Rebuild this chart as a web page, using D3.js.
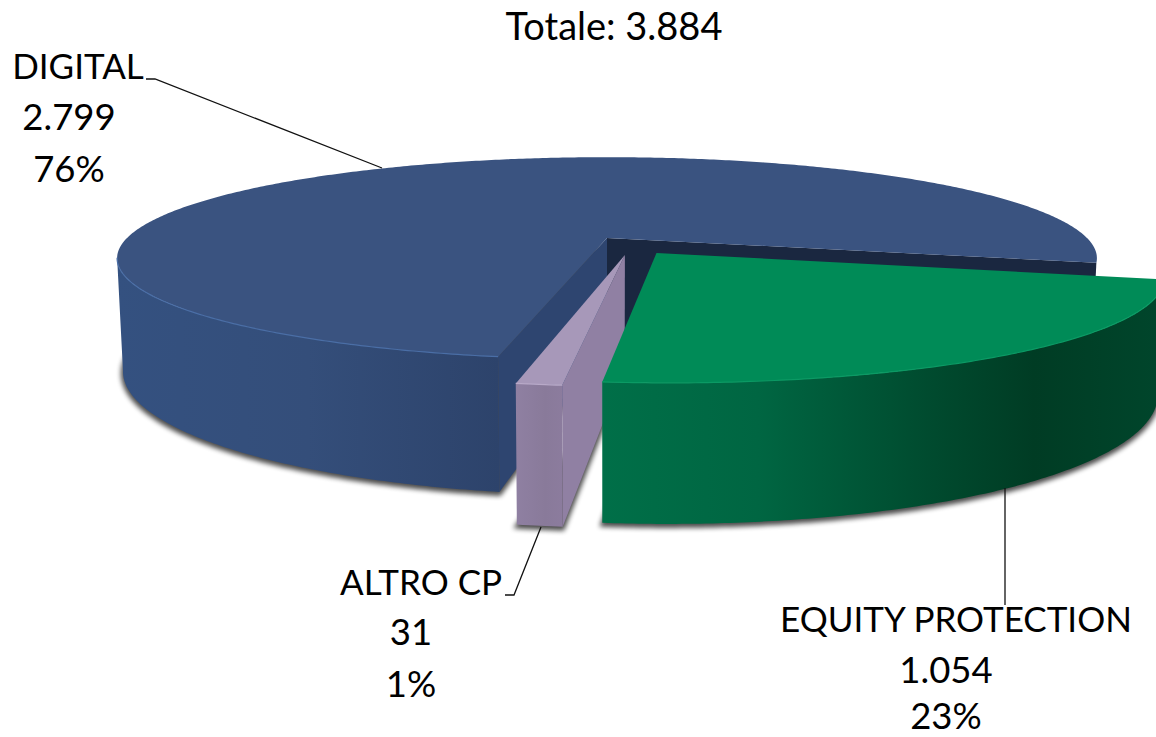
<!DOCTYPE html>
<html>
<head>
<meta charset="utf-8">
<script src="https://cdn.jsdelivr.net/npm/d3@7"></script>
<style>
	html, body { margin: 0; background: #fff; }
	svg { display: block; }
	text { font-family: Lato, "Open Sans", sans-serif; font-size: 36.5px; fill: #000; text-anchor: middle; }
</style>
</head>
<body>
<div id="chart"></div>
<script>
// order follows the slices clockwise from the front left corner
const categories = ['DIGITAL', 'EQUITY PROTECTION', 'ALTRO CP'];
const amounts = [2799, 1054, 31];
// shares as drawn, the labels round them
const shares = [76, 22.8, 1.2];
const totalLabel = 'Totale';

const width = 1156;
const height = 737;

// how the flat disc is seen: tilt, perspective and thickness
const persp = 0.2;
const thickness = 108.6;
const taper = 0.988;
const startDeg = 190.5;

// slice explode, in disc units
const explode = [[0, 0], [0.10, 0.15], [0.036, 0.17]];

const topColor = ['#3a5380', '#008b57', '#a798b9'];
const wallColor = ['#2e4570', '#006f48', '#9080a3'];
const backWall = '#1a2740';
const rimColor = ['#4a6ea6', '#0b9a64', '#b8a9c8'];
const sideStops = [
	[[0, '#345180'], [0.5, '#344e7a'], [1, '#2d436b']],
	[[0, '#006f48'], [0.28, '#006642'], [0.6, '#004a2e'], [0.78, '#003c24'], [1, '#00452b']],
	[[0, '#8f80a2'], [0.6, '#897a9a'], [1, '#8c7c9e']]
];
const sideRange = [[116, 500], [603, 1156], [516, 565]];

const x = d3.scaleLinear().domain([-1, 1]).range([127, 1087]);
const y = d3.scaleLinear().domain([-1, 1]).range([141, 335]);

const fmt = d3.formatLocale({ decimal: ',', thousands: '.', grouping: [3], currency: ['', '€'] }).format(',d');

let svg = d3.select('#chart')
	.append('svg')
	.attr('width', width)
	.attr('height', height);

let defs = svg.append('defs');

defs.append('filter')
	.attr('id', 'soft')
	.attr('x', '-10%').attr('y', '-10%')
	.attr('width', '120%').attr('height', '120%')
	.append('feGaussianBlur')
	.attr('stdDeviation', 2.5);

sideStops.forEach(function (stops, i) {
	let g = defs.append('linearGradient')
		.attr('id', 'side' + i)
		.attr('gradientUnits', 'userSpaceOnUse')
		.attr('x1', sideRange[i][0]).attr('x2', sideRange[i][1])
		.attr('y1', 0).attr('y2', 0);
	stops.forEach(function (s) {
		g.append('stop').attr('offset', s[0]).attr('stop-color', s[1]);
	});
});

let pie = d3.pie()
	.value(d => d)
	.sort(null)
	.startAngle(startDeg * Math.PI / 180)
	.endAngle((startDeg + 360) * Math.PI / 180);

let slices = pie(shares);

// disc point -> screen point, level 0 is the top face and 1 the bottom face
function project(i, radius, angle, level) {
	let u = explode[i][0] + radius * Math.sin(angle);
	let v = explode[i][1] - radius * Math.cos(angle);
	let w = 1 - persp * v;
	let px = x(u / w);
	let py = y(v / w) + level * thickness / w;
	if (level) px = x(0) + (px - x(0)) * taper;
	return [px, py];
}

function rim(i, from, to, level) {
	let n = Math.max(2, Math.ceil((to - from) / 0.01));
	return d3.range(n + 1).map(k => project(i, 1, from + (to - from) * k / n, level));
}

// the part of the rim that faces the viewer, from the slice start on
function facingEnd(d) {
	let a = d.startAngle;
	while (a < d.endAngle && -Math.cos(a) >= persp) a += 0.005;
	return Math.min(a, d.endAngle);
}

let line = d3.line();
let closed = d3.line().curve(d3.curveLinearClosed);

function wall(i, angle) {
	return closed([
		project(i, 0, 0, 0),
		project(i, 1, angle, 0),
		project(i, 1, angle, 1),
		project(i, 0, 0, 1)
	]);
}

// shadows go under everything
svg.append('g')
	.selectAll('path')
	.data(slices)
	.enter()
	.append('path')
	.attr('d', (d, i) => closed([project(i, 0, 0, 1)].concat(rim(i, d.startAngle, d.endAngle, 1))))
	.attr('transform', 'translate(0,2)')
	.attr('fill', '#000')
	.attr('stroke', '#000')
	.attr('stroke-width', 4)
	.attr('opacity', 0.7)
	.attr('filter', 'url(#soft)');

let groups = svg.selectAll('.slice')
	.data(slices)
	.enter()
	.append('g')
	.attr('class', 'slice');

// inner walls of the notch
groups.filter((d, i) => i === 0).append('path')
	.attr('d', d => wall(0, d.endAngle))
	.attr('fill', backWall);
groups.filter((d, i) => i === 0).append('path')
	.attr('d', d => wall(0, d.startAngle))
	.attr('fill', wallColor[0]);
groups.filter((d, i) => i === 2).append('path')
	.attr('d', d => wall(2, d.startAngle))
	.attr('fill', wallColor[2]);

// outer side
groups.append('path')
	.attr('d', function (d) {
		let i = d.index;
		let end = facingEnd(d);
		return closed(rim(i, d.startAngle, end, 0).concat(rim(i, d.startAngle, end, 1).reverse()));
	})
	.attr('fill', d => 'url(#side' + d.index + ')');

// top face
groups.append('path')
	.attr('d', d => closed([project(d.index, 0, 0, 0)].concat(rim(d.index, d.startAngle, d.endAngle, 0))))
	.attr('fill', d => topColor[d.index]);

// thin light edge along the front rim
groups.append('path')
	.attr('d', d => line(rim(d.index, d.startAngle, facingEnd(d), 0)))
	.attr('fill', 'none')
	.attr('stroke', d => rimColor[d.index])
	.attr('stroke-width', 1.2);

// the green slice sits in front of the small one
groups.filter((d, i) => i === 1).raise();

// leader lines
let leaders = [
	[[146, 79], [155, 79], [382, 168]],
	[[1005, 488], [1005, 605]],
	[[505, 595], [514, 595], [541, 527]]
];
svg.append('g')
	.selectAll('path')
	.data(leaders)
	.enter()
	.append('path')
	.attr('d', d => line(d))
	.attr('fill', 'none')
	.attr('stroke', '#111')
	.attr('stroke-width', 1.3);

// labels
let labelPos = [
	{ x: 69, first: 9, y: [79, 130, 182] },
	{ x: 946, first: 10, y: [632, 683, 729] },
	{ x: 411, first: 10, y: [595, 645, 697] }
];

categories.forEach(function (name, i) {
	let p = labelPos[i];
	let rows = [name, fmt(amounts[i]), Math.round(shares[i]) + '%'];
	rows.forEach(function (t, k) {
		svg.append('text')
			.attr('x', p.x + (k === 0 ? p.first : 0))
			.attr('y', p.y[k])
			.style('font-size', k === 0 ? '35px' : null)
			.text(t);
	});
});

svg.append('text')
	.attr('x', 614)
	.attr('y', 40)
	.style('font-size', '38px')
	.text(totalLabel + ': ' + fmt(d3.sum(amounts)));
</script>
</body>
</html>
